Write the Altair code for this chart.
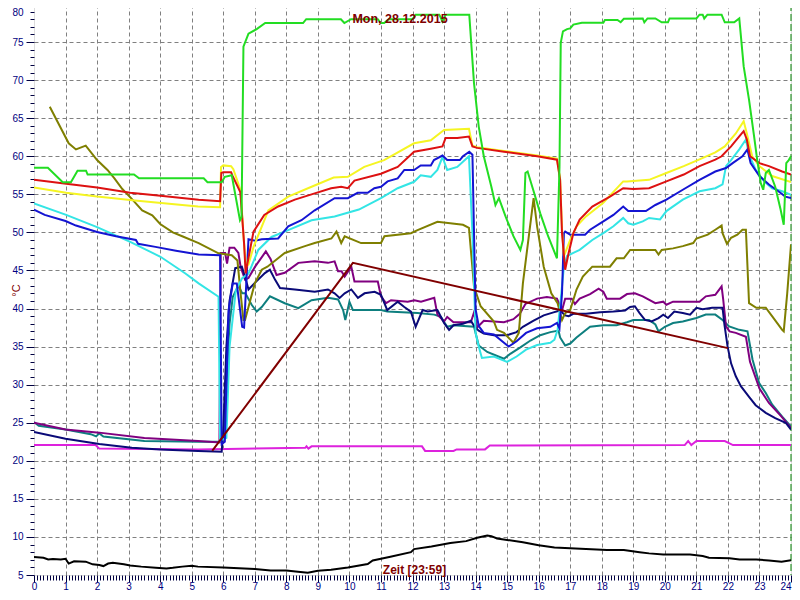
import altair as alt
import pandas as pd

# ---------------- data (hour of day, temperature °C) ----------------
green_h = [0, 0.44, 0.91, 1.17, 1.38, 1.65, 1.7, 3.17, 3.33, 5.38, 5.5, 5.95, 6.05, 6.27, 6.53, 6.58, 6.64, 6.8, 7.06, 7.33, 8.53, 8.63, 9.73, 9.84, 10.05, 10.9, 11.0, 11.1, 11.25, 12.0, 12.1, 12.85, 12.95, 13.05, 13.8, 13.95, 14.1, 14.26, 14.5, 14.63, 14.74, 14.95, 15.2, 15.42, 15.5, 15.58, 15.65, 15.84, 16.05, 16.3, 16.58, 16.66, 16.7, 16.77, 16.9, 17.0, 17.1, 17.37, 18.05, 18.1, 18.5, 18.6, 18.7, 19.3, 19.35, 19.45, 19.7, 19.9, 20.1, 20.15, 21.0, 21.1, 21.2, 21.25, 21.35, 21.8, 21.9, 22.2, 22.36, 22.5, 22.67, 22.83, 22.93, 23.04, 23.12, 23.2, 23.3, 23.5, 23.67, 23.77, 23.85, 23.93, 24.0]
green_v = [58.5, 58.5, 56.6, 56.6, 58.1, 58.1, 57.6, 57.6, 57.1, 57.1, 56.6, 56.6, 57.3, 57.5, 51.6, 52.0, 74.4, 76.1, 76.7, 77.5, 77.5, 78.0, 78.0, 77.5, 78.0, 78.0, 77.5, 77.5, 78.0, 78.0, 78.6, 78.6, 77.7, 78.6, 78.6, 69.6, 63.9, 60.0, 56.0, 53.6, 54.5, 52.1, 49.5, 47.7, 49.0, 57.8, 58.0, 55.4, 52.5, 49.5, 46.6, 58.6, 74.9, 76.4, 76.7, 76.8, 77.3, 77.55, 77.55, 77.9, 77.9, 77.6, 78.05, 78.1, 77.6, 78.1, 78.1, 77.6, 77.6, 78.1, 78.1, 78.6, 78.6, 78.1, 78.6, 78.6, 77.6, 77.6, 78.1, 71.8, 67.4, 62.6, 59.5, 56.5, 55.6, 57.8, 58.2, 56.0, 53.0, 51.0, 59.1, 59.5, 60.0]

red_h = [0, 1.02, 2.0, 3.05, 4.01, 5.22, 5.9, 5.94, 6.0, 6.25, 6.3, 6.54, 6.6, 6.66, 6.71, 6.76, 6.96, 7.3, 7.74, 8.27, 8.8, 9.42, 9.74, 9.95, 10.16, 11.0, 11.53, 12.05, 12.58, 12.95, 13.05, 13.42, 13.79, 13.9, 14.05, 14.9, 15.95, 16.58, 16.68, 16.74, 16.84, 16.95, 17.1, 17.3, 17.7, 18.26, 18.68, 19.0, 19.5, 20.05, 20.6, 21.1, 21.6, 21.8, 22.1, 22.36, 22.5, 22.6, 22.7, 23.0, 23.3, 23.72, 24.0]
red_v = [56.9, 56.4, 55.9, 55.2, 54.8, 54.3, 54.1, 57.8, 57.9, 57.9, 57.4, 55.3, 52.0, 48.6, 44.6, 45.8, 50.1, 52.3, 53.4, 54.3, 55.0, 55.8, 56.0, 55.8, 56.8, 57.7, 58.6, 60.6, 61.0, 61.3, 62.4, 62.4, 62.6, 61.3, 61.1, 60.6, 60.0, 59.55, 56.9, 49.9, 45.1, 47.3, 49.9, 51.7, 53.4, 54.7, 55.8, 55.7, 55.8, 56.7, 57.6, 58.7, 59.55, 60.0, 61.3, 62.6, 63.3, 62.2, 60.0, 59.1, 58.7, 58.0, 57.6]

yellow_h = [0, 1.02, 2.0, 3.2, 5.2, 5.9, 5.93, 6.0, 6.25, 6.32, 6.55, 6.65, 6.72, 6.8, 6.96, 7.43, 8.06, 8.8, 9.5, 9.95, 10.47, 11.1, 12.05, 12.58, 13.0, 13.79, 13.9, 14.05, 14.9, 15.95, 16.58, 16.68, 16.74, 16.8, 17.0, 17.2, 17.5, 18.05, 18.68, 18.8, 19.5, 20.05, 20.6, 21.1, 21.6, 21.9, 22.25, 22.5, 22.6, 22.77, 23.0, 23.4, 24.0]
yellow_v = [55.9, 55.2, 54.7, 54.2, 53.4, 53.3, 58.6, 58.8, 58.7, 58.3, 55.5, 49.0, 45.5, 45.8, 48.1, 52.9, 54.7, 56.0, 57.2, 57.3, 58.6, 59.5, 61.7, 62.1, 63.45, 63.6, 61.4, 61.2, 60.7, 60.1, 59.7, 57.0, 50.5, 46.9, 49.0, 50.8, 52.1, 53.9, 56.7, 56.7, 56.9, 57.8, 58.7, 59.6, 60.5, 61.3, 63.0, 64.6, 63.0, 60.0, 58.7, 57.4, 56.6]

blue_h = [0, 0.34, 1.0, 1.33, 2.0, 2.6, 3.23, 3.3, 3.85, 4.5, 5.22, 5.9, 5.95, 6.05, 6.17, 6.3, 6.43, 6.6, 6.66, 6.8, 7.01, 7.22, 7.74, 8.06, 8.48, 8.9, 9.53, 9.95, 10.26, 10.58, 10.79, 11.0, 11.21, 11.53, 11.74, 12.05, 12.26, 12.58, 12.68, 12.95, 13.1, 13.5, 13.6, 13.8, 13.9, 14.0, 14.1, 14.26, 14.58, 14.9, 15.05, 15.3, 15.6, 15.95, 16.37, 16.58, 16.66, 16.74, 16.8, 16.84, 17.0, 17.47, 17.63, 18.05, 18.37, 18.68, 18.84, 19.4, 19.7, 20.05, 20.57, 21.1, 21.6, 21.94, 22.15, 22.46, 22.62, 22.72, 23.0, 23.3, 23.6, 23.82, 24.0]
blue_v = [53.0, 52.3, 51.5, 50.9, 50.05, 49.5, 49.0, 48.5, 48.1, 47.6, 47.1, 47.0, 22.2, 22.5, 39.8, 43.3, 43.3, 37.6, 37.5, 49.1, 48.9, 49.1, 49.2, 50.8, 51.6, 52.9, 54.5, 54.5, 55.2, 55.2, 55.8, 56.0, 56.7, 57.1, 58.2, 58.2, 58.8, 58.8, 59.5, 60.1, 59.5, 59.5, 60.0, 60.6, 60.2, 39.9, 37.7, 36.8, 36.6, 35.5, 35.0, 35.7, 36.8, 37.4, 37.6, 38.1, 37.4, 42.0, 49.9, 50.1, 49.7, 49.7, 50.35, 51.45, 52.3, 53.4, 52.8, 52.8, 53.6, 54.3, 55.6, 56.9, 58.0, 58.45, 59.1, 60.0, 60.9, 59.1, 57.4, 56.3, 55.4, 54.7, 54.5]

cyan_h = [0, 1.02, 2.0, 3.05, 4.01, 4.8, 5.22, 5.85, 5.9, 6.1, 6.2, 6.4, 6.6, 6.8, 7.11, 7.53, 8.06, 8.8, 9.53, 10.3, 11.0, 11.53, 12.05, 12.26, 12.58, 12.79, 12.95, 13.1, 13.42, 13.79, 13.9, 14.0, 14.1, 14.2, 14.58, 15.0, 15.3, 15.6, 15.95, 16.37, 16.5, 16.6, 16.7, 16.8, 16.9, 17.1, 17.3, 17.7, 18.05, 18.37, 18.68, 18.84, 19.0, 19.3, 19.5, 19.85, 20.05, 20.57, 21.1, 21.6, 21.83, 21.94, 22.1, 22.36, 22.57, 22.67, 22.88, 23.15, 23.4, 23.72, 24.0]
cyan_v = [53.8, 52.3, 50.7, 48.75, 46.8, 44.6, 43.3, 41.55, 22.6, 23.0, 35.0, 42.4, 44.0, 44.6, 47.7, 49.4, 50.3, 51.6, 52.1, 53.0, 54.5, 55.8, 56.65, 57.5, 57.3, 58.2, 59.9, 58.2, 58.6, 60.0, 49.9, 36.8, 35.0, 33.5, 33.7, 33.0, 33.7, 34.6, 35.2, 35.5, 35.9, 37.2, 41.2, 45.5, 46.9, 47.3, 47.7, 49.0, 49.9, 50.8, 51.9, 51.2, 51.0, 51.45, 51.9, 51.7, 52.8, 54.3, 55.4, 55.8, 56.3, 58.7, 59.5, 60.9, 62.2, 60.2, 58.2, 56.7, 55.8, 55.4, 54.95]

olive_h = [0.5, 1.1, 1.33, 1.64, 2.0, 2.33, 2.55, 2.8, 3.1, 3.43, 3.75, 4.0, 4.4, 4.7, 5.22, 5.85, 6.27, 6.45, 6.55, 6.64, 6.69, 7.0, 7.22, 7.4, 7.95, 8.59, 8.9, 9.43, 9.59, 9.74, 9.85, 10.37, 11.0, 11.11, 11.95, 12.16, 12.79, 13.6, 13.79, 13.95, 14.16, 14.58, 14.68, 14.9, 15.2, 15.37, 15.5, 15.7, 15.84, 15.95, 16.16, 16.4, 16.6, 16.74, 16.84, 17.0, 17.2, 17.4, 17.7, 18.26, 18.47, 18.7, 18.9, 19.7, 19.8, 19.9, 20.26, 20.57, 20.9, 21.0, 21.36, 21.6, 21.8, 21.83, 21.97, 22.1, 22.3, 22.46, 22.57, 22.67, 22.9, 23.2, 23.4, 23.72, 23.77, 23.88, 24.0]
olive_v = [66.5, 61.7, 60.9, 61.4, 59.5, 58.2, 57.1, 55.7, 54.4, 52.9, 52.25, 51.1, 50.0, 49.5, 48.6, 47.25, 47.0, 46.3, 42.0, 38.5, 38.5, 43.3, 45.1, 45.5, 47.3, 48.2, 48.6, 49.2, 50.1, 48.6, 49.5, 48.6, 48.6, 49.5, 49.9, 50.3, 51.4, 51.0, 50.6, 42.9, 40.3, 38.3, 37.2, 36.8, 35.5, 36.8, 43.3, 49.9, 54.5, 50.8, 45.5, 42.0, 40.7, 38.5, 39.4, 39.8, 42.5, 44.2, 45.5, 45.5, 46.6, 46.6, 47.7, 47.7, 47.1, 47.7, 47.9, 48.2, 48.6, 49.2, 49.7, 50.35, 50.9, 49.9, 48.5, 49.3, 49.7, 50.35, 50.35, 40.7, 40.1, 40.1, 39.0, 37.2, 37.0, 42.0, 48.4]

purple_h = [0, 1.0, 2.07, 3.5, 5.2, 5.88, 5.92, 6.06, 6.12, 6.2, 6.35, 6.48, 6.55, 6.69, 6.8, 7.01, 7.35, 7.5, 7.69, 7.95, 8.38, 8.9, 9.32, 9.53, 9.64, 9.75, 9.85, 10.06, 10.16, 10.9, 11.0, 11.16, 11.32, 11.85, 12.06, 12.27, 12.69, 12.79, 13.0, 13.1, 13.3, 13.85, 13.95, 14.05, 14.26, 14.9, 15.2, 15.4, 15.58, 15.95, 16.26, 16.58, 16.74, 16.84, 17.05, 17.15, 17.3, 17.63, 17.9, 18.05, 18.16, 18.58, 18.8, 19.05, 19.3, 19.7, 19.95, 20.05, 20.26, 20.7, 21.1, 21.3, 21.6, 21.8, 21.85, 21.94, 22.05, 22.25, 22.57, 22.7, 23.0, 23.3, 23.7, 24.0]
purple_v = [25.0, 24.1, 23.7, 23.0, 22.6, 22.4, 47.3, 47.3, 45.9, 48.0, 48.0, 47.3, 45.5, 43.8, 44.0, 45.5, 47.5, 46.5, 44.4, 44.7, 46.0, 46.2, 46.0, 46.2, 44.9, 44.9, 44.2, 45.5, 43.55, 43.55, 41.6, 40.7, 41.1, 40.9, 41.1, 40.9, 41.4, 39.2, 38.3, 38.9, 38.2, 38.2, 39.5, 37.5, 38.4, 38.2, 38.6, 39.3, 40.6, 41.3, 41.5, 41.3, 39.75, 41.3, 41.3, 40.6, 41.3, 41.9, 42.6, 42.2, 41.3, 41.3, 41.9, 42.0, 41.6, 40.7, 40.9, 40.5, 40.9, 40.9, 40.9, 41.6, 41.8, 42.9, 41.2, 37.65, 37.0, 36.8, 36.3, 33.0, 29.5, 27.6, 25.8, 24.3]

navy_h = [0, 1.0, 2.07, 3.1, 4.0, 5.2, 5.95, 6.0, 6.1, 6.2, 6.38, 6.59, 6.69, 6.8, 7.01, 7.32, 7.48, 7.64, 7.8, 8.27, 8.9, 9.32, 9.53, 9.69, 9.85, 10.06, 10.27, 10.48, 10.8, 11.0, 11.2, 11.53, 11.74, 11.95, 12.1, 12.32, 12.48, 12.79, 13.0, 13.16, 13.3, 13.6, 13.85, 13.97, 14.1, 14.26, 14.58, 15.0, 15.3, 15.5, 15.84, 16.16, 16.47, 16.68, 16.84, 16.95, 17.1, 17.5, 17.95, 18.37, 18.74, 18.9, 19.05, 19.2, 19.37, 19.58, 19.8, 19.95, 20.1, 20.3, 20.57, 20.8, 21.0, 21.2, 21.5, 21.83, 21.89, 21.99, 22.1, 22.25, 22.41, 22.67, 22.88, 23.2, 23.5, 23.83, 24.0]
navy_v = [23.8, 22.9, 22.2, 21.7, 21.5, 21.3, 21.2, 24.0, 35.0, 41.0, 45.3, 45.5, 44.2, 42.5, 43.4, 44.65, 45.1, 43.8, 42.7, 42.5, 42.2, 42.5, 42.0, 41.4, 42.0, 42.5, 41.4, 42.0, 42.2, 41.8, 39.8, 40.9, 40.2, 39.6, 37.6, 39.8, 39.6, 39.8, 38.1, 37.2, 37.8, 38.0, 38.4, 37.6, 37.1, 36.7, 36.5, 36.5, 36.9, 37.6, 38.4, 39.1, 39.5, 39.75, 39.1, 39.0, 39.3, 39.3, 39.5, 39.6, 39.75, 40.2, 40.3, 39.4, 38.5, 38.3, 38.75, 39.2, 38.75, 39.6, 39.4, 39.2, 40.1, 39.9, 40.1, 40.1, 37.9, 35.0, 32.8, 31.1, 29.8, 28.4, 27.3, 26.3, 25.6, 25.0, 24.1]

teal_h = [0, 0.15, 1.0, 1.8, 1.97, 2.07, 2.2, 3.5, 5.2, 5.9, 6.0, 6.1, 6.2, 6.3, 6.48, 6.6, 6.7, 6.9, 7.06, 7.22, 7.48, 7.95, 8.38, 8.8, 9.32, 9.64, 9.8, 9.87, 10.0, 10.11, 11.0, 11.2, 12.16, 12.69, 12.9, 13.1, 13.3, 13.95, 14.1, 14.37, 14.9, 15.1, 15.42, 15.74, 16.05, 16.37, 16.63, 16.68, 16.84, 17.0, 17.2, 17.63, 18.05, 18.47, 18.8, 19.0, 19.5, 19.7, 19.8, 20.0, 20.26, 20.57, 21.0, 21.3, 21.6, 21.83, 22.04, 22.36, 22.62, 22.78, 22.99, 23.2, 23.4, 23.72, 24.0]
teal_v = [25.1, 24.6, 24.1, 23.5, 23.2, 23.6, 23.2, 22.6, 22.5, 22.5, 23.0, 30.0, 38.0, 41.5, 43.0, 42.0, 42.0, 40.5, 39.6, 40.2, 41.6, 40.7, 40.05, 41.1, 41.4, 41.2, 39.8, 38.5, 40.9, 39.8, 39.8, 39.6, 39.4, 39.2, 38.9, 37.6, 37.8, 37.6, 35.15, 34.3, 33.4, 34.05, 34.9, 35.8, 36.5, 36.9, 37.1, 36.2, 35.15, 35.4, 36.2, 37.6, 37.8, 37.8, 38.2, 38.5, 38.5, 37.9, 37.0, 37.6, 38.1, 38.3, 38.75, 39.2, 39.2, 38.5, 37.65, 37.2, 37.0, 33.3, 30.2, 28.9, 27.4, 25.8, 24.5]

magenta_h = [0, 1.95, 2.07, 5.2, 8.6, 8.64, 8.7, 8.8, 12.3, 12.4, 13.3, 13.4, 14.3, 14.45, 20.63, 20.74, 20.84, 21.0, 21.9, 22.16, 24.0]
magenta_v = [22.07, 22.07, 21.6, 21.5, 21.7, 21.9, 21.6, 21.9, 21.9, 21.3, 21.3, 21.5, 21.5, 22.0, 22.07, 22.6, 22.07, 22.6, 22.6, 22.07, 22.07]

maroon_h = [5.65, 10.11, 22.0]
maroon_v = [21.3, 46.0, 34.8]

black_h = [0, 0.3, 0.45, 0.6, 0.85, 1.0, 1.1, 1.27, 1.64, 1.86, 2.07, 2.2, 2.35, 2.5, 2.85, 3.05, 3.4, 3.86, 4.2, 4.4, 4.7, 5.0, 5.2, 6.0, 7.0, 7.5, 8.0, 8.37, 8.68, 9.0, 9.42, 9.95, 10.58, 10.74, 11.3, 11.95, 12.05, 12.6, 13.2, 13.7, 14.05, 14.37, 14.5, 14.68, 15.0, 15.5, 16.0, 16.5, 17.0, 17.5, 17.84, 18.16, 18.7, 19.2, 19.5, 19.95, 20.8, 21.2, 21.4, 22.05, 22.37, 22.9, 23.3, 23.7, 24.0]
black_v = [7.35, 7.27, 7.05, 7.1, 7.05, 7.14, 6.5, 6.8, 6.75, 6.4, 6.3, 6.17, 6.5, 6.6, 6.4, 6.26, 6.1, 5.95, 5.87, 5.95, 6.1, 6.2, 6.1, 6.0, 5.8, 5.6, 5.6, 5.43, 5.3, 5.55, 5.7, 6.0, 6.45, 6.9, 7.4, 8.0, 8.4, 8.75, 9.2, 9.45, 9.9, 10.2, 10.1, 9.8, 9.6, 9.3, 8.9, 8.6, 8.5, 8.4, 8.36, 8.3, 8.27, 8.0, 7.84, 7.7, 7.7, 7.5, 7.27, 7.2, 7.05, 7.05, 6.9, 6.75, 6.95]

# draw order (bottom -> top) and colours
series = [
    ("black", black_h, black_v, "#000000"),
    ("magenta", magenta_h, magenta_v, "#dd22dd"),
    ("teal", teal_h, teal_v, "#0e7f7f"),
    ("purple", purple_h, purple_v, "#800080"),
    ("navy", navy_h, navy_v, "#0a0a78"),
    ("olive", olive_h, olive_v, "#7f7f00"),
    ("cyan", cyan_h, cyan_v, "#33e5e5"),
    ("blue", blue_h, blue_v, "#1414d2"),
    ("yellow", yellow_h, yellow_v, "#f5f522"),
    ("red", red_h, red_v, "#dd1111"),
    ("maroon", maroon_h, maroon_v, "#800000"),
    ("green", green_h, green_v, "#22dd22"),
]

x_ticks = [round(i * 0.1, 1) for i in range(241)]
y_ticks = list(range(5, 81))
now_hour = [24]

rows = []
for name, hs, vs, _ in series:
    for i, (h, v) in enumerate(zip(hs, vs)):
        rows.append({"s": name, "h": h, "v": v, "i": i})
df = pd.DataFrame(rows)

FONT = "Liberation Sans"

x_axis = alt.Axis(
    values=x_ticks,
    labelExpr="datum.value % 1 === 0 ? format(datum.value, 'd') : ''",
    tickSize={"condition": {"test": "datum.value % 1 === 0", "value": 7}, "value": 5},
    gridOpacity={"condition": {"test": "datum.value % 1 === 0 && datum.value > 0 && datum.value < 24", "value": 1}, "value": 0},
    labelAlign={"condition": {"test": "datum.value === 24", "value": "right"}, "value": "center"},
    grid=True, gridColor="#808080", gridDash=[4, 3], gridWidth=1,
    domain=False, tickColor="#000040", labelColor="#000080", labelFont=FONT,
    labelFontSize=10, labelPadding=-1, labelFlush=False, labelOverlap=False, labelBound=False,
    title="Zeit [23:59]", titleColor="#800000", titleFont=FONT, titleFontSize=12,
    titleFontWeight="bold", titleX=380, titleY=-2, titleBaseline="alphabetic",
    titleAlign="center", titleAnchor="middle",
)
y_axis = alt.Axis(
    values=y_ticks,
    labelExpr="datum.value % 5 === 0 ? datum.label : ''",
    tickSize={"condition": {"test": "datum.value % 5 === 0", "value": 8}, "value": 4},
    gridOpacity={"condition": {"test": "datum.value % 5 === 0 && datum.value > 5", "value": 1}, "value": 0},
    labelOffset={"condition": {"test": "datum.value === 80", "value": 8}, "value": 0},
    grid=True, gridColor="#808080", gridDash=[4, 3], gridWidth=1,
    domain=False, tickColor="#000040", labelColor="#000080", labelFont=FONT,
    labelFontSize=10, labelPadding=3, labelFlush=False, labelOverlap=False, labelBound=False,
    title="°C", titleColor="#800000", titleFont=FONT, titleFontSize=11,
    titleFontWeight="normal", titleAngle=-90, titleX=-15, titleY=286,
    titleAlign="center", titleBaseline="alphabetic",
)

X = alt.X("h:Q", scale=alt.Scale(domain=[0, 24], nice=False, zero=False), axis=x_axis)
Y = alt.Y("v:Q", scale=alt.Scale(domain=[5, 80], nice=False, zero=False), axis=y_axis)

base = alt.Chart(df)
layers = []
for name, _, _, col in series:
    layers.append(
        base.transform_filter(alt.datum.s == name)
        .mark_line(color=col, strokeWidth=2, clip=True)
        .encode(x=X, y=Y, order="i:Q")
    )

now_rule = alt.Chart(pd.DataFrame({"h": now_hour})).mark_rule(
    color="#008000", strokeDash=[7, 3], strokeWidth=1
).encode(x=alt.X("h:Q", scale=alt.Scale(domain=[0, 24], nice=False), axis=x_axis))

chart = alt.layer(now_rule, *layers).properties(
    width=757,
    height=571,
    title=alt.TitleParams(
        "Mon, 28.12.2015", color="#800000", font=FONT, fontSize=12.5,
        fontWeight="bold", anchor="middle", offset=-22, dx=-12.5,
    ),
    autosize=alt.AutoSizeParams(type="none"),
    padding={"left": 26, "top": -4, "right": 1, "bottom": 17},
).configure_view(stroke=None).configure(background="white")

chart.save("out.html", embed_options={"renderer": "svg", "actions": False})
